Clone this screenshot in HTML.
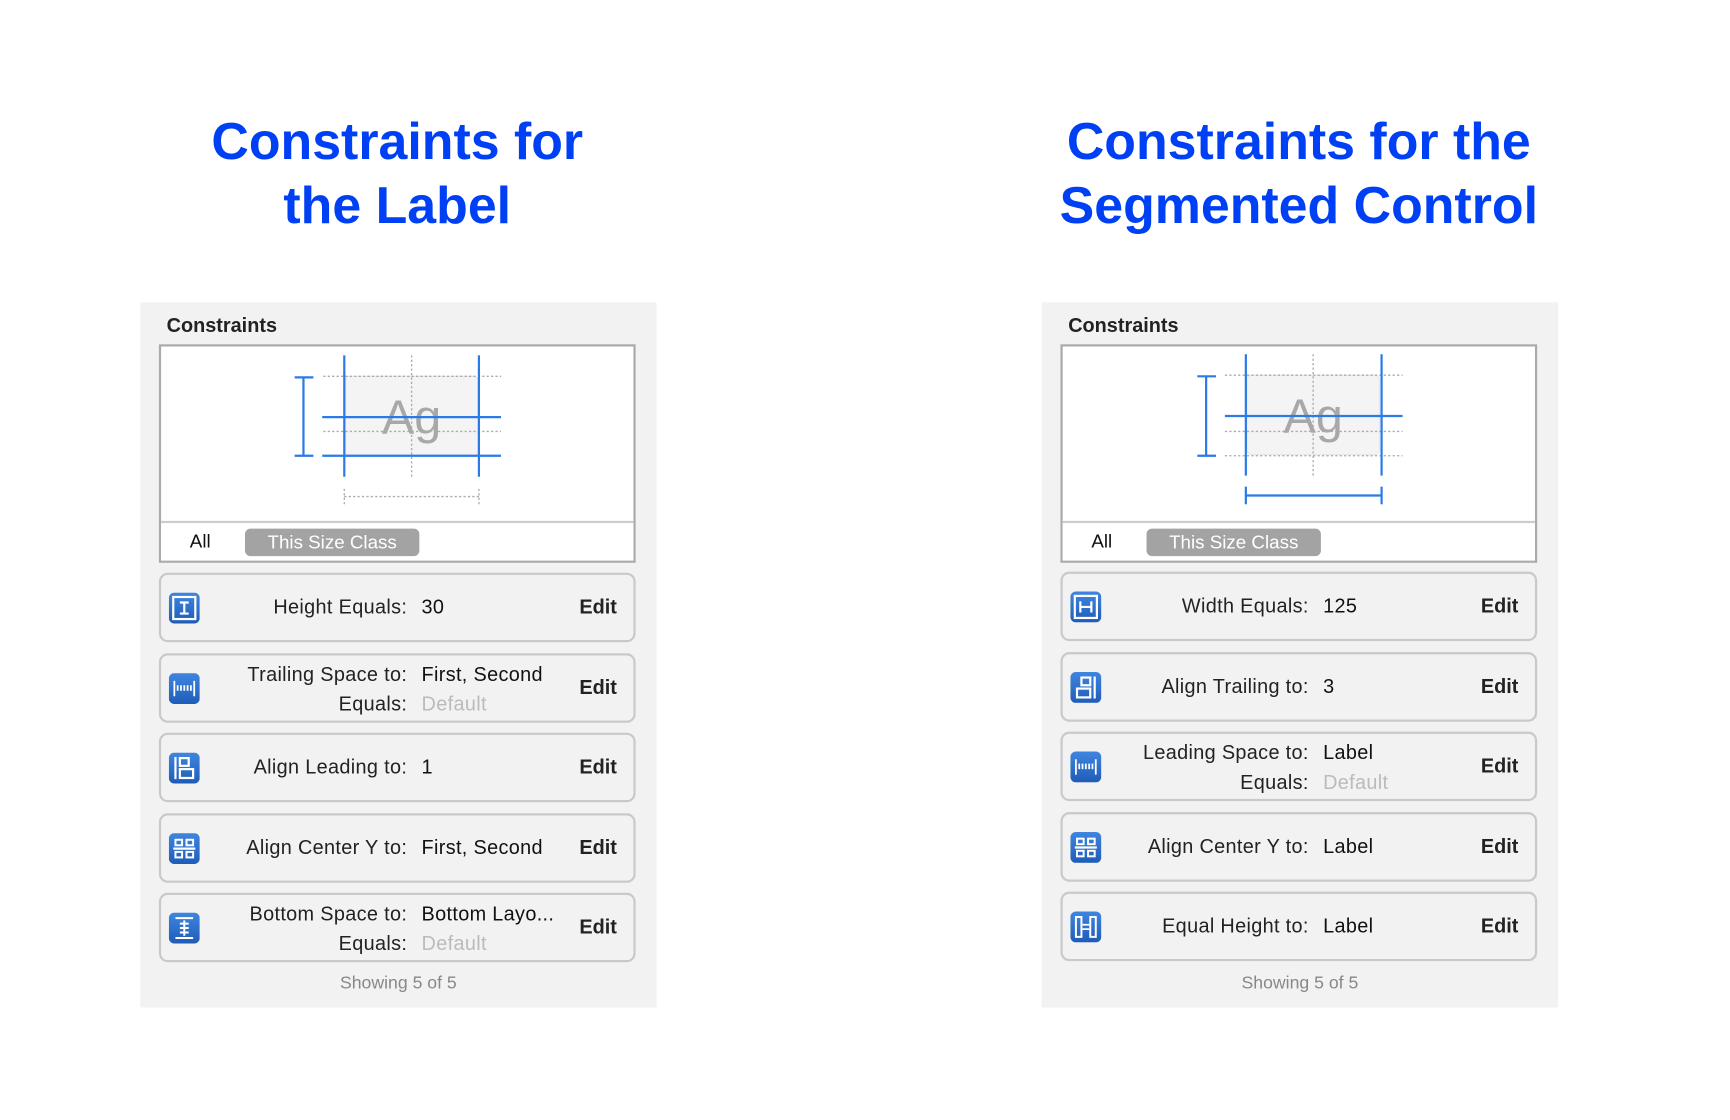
<!DOCTYPE html>
<html><head><meta charset="utf-8"><style>
html,body{margin:0;padding:0;background:#fff;}
body{width:1730px;height:1120px;overflow:hidden;position:relative;font-family:"Liberation Sans",Arial,sans-serif;}
#w{position:absolute;left:0;top:0;width:1570px;height:1015px;transform:scale(1.1035);transform-origin:0 0;}
.t{position:absolute;width:600px;text-align:center;color:#0040f5;font-weight:bold;font-size:47px;line-height:58px;}
.p{position:absolute;top:274px;width:468px;height:639px;background:#f2f2f2;}
.h{position:absolute;left:24px;top:11px;font-weight:bold;font-size:18px;color:#222;}
.d{position:absolute;left:17px;top:38px;width:428px;height:194px;border:2px solid #aaa;background:#fff;}
.dv{position:absolute;left:0;right:0;top:158px;height:34px;border-top:2px solid #ccc;background:#fff;}
.all{position:absolute;left:26px;top:7px;font-size:17px;color:#111;}
.pill{position:absolute;left:76px;top:5px;width:158px;height:25px;border-radius:5px;background:#a3a3a3;color:#fff;font-size:17px;text-align:center;line-height:25px;}
.r{position:absolute;left:17px;width:428px;height:59px;border:2px solid #c9c9c9;border-radius:8px;background:#f2f2f2;}
.ic{position:absolute;left:7px;top:16px;width:28px;height:28px;}
.l{position:absolute;right:205px;font-size:18px;color:#222;white-space:nowrap;letter-spacing:.3px}
.v{position:absolute;left:236px;font-size:18px;color:#111;white-space:nowrap;letter-spacing:.3px}
.g{color:#bbb}
.e{position:absolute;left:379px;top:19px;font-weight:bold;font-size:18px;color:#222;}
.s1{top:19px}.a{top:7px}.b{top:34px}
.sh{position:absolute;left:0;width:100%;top:609px;text-align:center;font-size:16px;color:#888;}
</style></head><body><div id="w">
<div class="t" style="left:60px;top:99px">Constraints for<br>the Label</div>
<div class="t" style="left:877px;top:99px">Constraints for the<br>Segmented Control</div>

<svg width="0" height="0" style="position:absolute"><defs>
<linearGradient id="bg" x1="0" y1="0" x2="0" y2="1"><stop offset="0" stop-color="#3f86e0"/><stop offset="1" stop-color="#1f5cb8"/></linearGradient>
</defs></svg>

<!-- LEFT PANEL -->
<div class="p" style="left:127px">
<div class="h">Constraints</div>
<div class="d">
<svg width="428" height="158" style="position:absolute;left:0;top:0">
<g transform="translate(-146,-314)">
<rect x="313" y="341" width="120" height="72" rx="4" fill="#f4f4f4" stroke="#e6e6e6"/>
<text x="373" y="393" text-anchor="middle" font-family="Liberation Sans" font-size="44" fill="#a8a8a8">Ag</text>
<g stroke="#aaa" stroke-width="1.2" stroke-dasharray="2,2">
<line x1="293" y1="341" x2="454" y2="341"/><line x1="293" y1="391" x2="454" y2="391"/>
<line x1="373" y1="322" x2="373" y2="432"/>
<line x1="312" y1="450" x2="434" y2="450"/><line x1="312" y1="443" x2="312" y2="457"/><line x1="434" y1="443" x2="434" y2="457"/>
</g>
<g stroke="#2a7ae8" stroke-width="2">
<line x1="312" y1="322" x2="312" y2="432"/><line x1="434" y1="322" x2="434" y2="432"/>
<line x1="292" y1="378" x2="454" y2="378"/><line x1="292" y1="413" x2="454" y2="413"/>
<line x1="275" y1="342" x2="275" y2="413"/><line x1="267" y1="342" x2="284" y2="342"/><line x1="267" y1="413" x2="284" y2="413"/>
</g></g></svg>
<div class="dv"><span class="all">All</span><span class="pill">This Size Class</span></div>
</div>
<div class="r" style="top:245px"><svg class="ic" viewBox="0 0 28 28"><rect width="28" height="28" rx="5" fill="url(#bg)"/><rect x="4" y="4" width="20" height="20" fill="none" stroke="#fff" stroke-width="2"/><path d="M10 9h8M10 19h8M14 9v10" stroke="#fff" stroke-width="2"/></svg><span class="l s1">Height Equals:</span><span class="v s1">30</span><span class="e">Edit</span></div>
<div class="r" style="top:318px"><svg class="ic" viewBox="0 0 28 28"><rect width="28" height="28" rx="5" fill="url(#bg)"/><path d="M5 7v14M23 7v14M8 11v5M11 11v5M14 11v5M17 11v5M20 11v5" stroke="#fff" stroke-width="1.6"/></svg><span class="l a">Trailing Space to:</span><span class="v a">First, Second</span><span class="l b">Equals:</span><span class="v b g">Default</span><span class="e">Edit</span></div>
<div class="r" style="top:390px"><svg class="ic" viewBox="0 0 28 28"><rect width="28" height="28" rx="5" fill="url(#bg)"/><path d="M6 4v20" stroke="#fff" stroke-width="2"/><rect x="10" y="5" width="8" height="7" fill="none" stroke="#fff" stroke-width="2"/><rect x="10" y="15" width="12" height="8" fill="none" stroke="#fff" stroke-width="2"/></svg><span class="l s1">Align Leading to:</span><span class="v s1">1</span><span class="e">Edit</span></div>
<div class="r" style="top:463px"><svg class="ic" viewBox="0 0 28 28"><rect width="28" height="28" rx="5" fill="url(#bg)"/><path d="M4 14h20" stroke="#fff" stroke-width="2"/><rect x="6" y="6" width="6" height="5" fill="none" stroke="#fff" stroke-width="1.8"/><rect x="16" y="6" width="6" height="5" fill="none" stroke="#fff" stroke-width="1.8"/><rect x="6" y="17" width="6" height="5" fill="none" stroke="#fff" stroke-width="1.8"/><rect x="16" y="17" width="6" height="5" fill="none" stroke="#fff" stroke-width="1.8"/></svg><span class="l s1">Align Center Y to:</span><span class="v s1">First, Second</span><span class="e">Edit</span></div>
<div class="r" style="top:535px"><svg class="ic" viewBox="0 0 28 28"><rect width="28" height="28" rx="5" fill="url(#bg)"/><path d="M6 5h16M6 23h16M14 7v14M10 10h8M10 14h8M10 18h8" stroke="#fff" stroke-width="1.8"/></svg><span class="l a">Bottom Space to:</span><span class="v a">Bottom Layo...</span><span class="l b">Equals:</span><span class="v b g">Default</span><span class="e">Edit</span></div>
<div class="sh">Showing 5 of 5</div>
</div>

<!-- RIGHT PANEL -->
<div class="p" style="left:944px">
<div class="h">Constraints</div>
<div class="d">
<svg width="428" height="158" style="position:absolute;left:0;top:0">
<g transform="translate(-964,-314)">
<rect x="1131" y="340" width="120" height="72" rx="4" fill="#f4f4f4" stroke="#e6e6e6"/>
<text x="1191" y="392" text-anchor="middle" font-family="Liberation Sans" font-size="44" fill="#a8a8a8">Ag</text>
<g stroke="#aaa" stroke-width="1.2" stroke-dasharray="2,2">
<line x1="1111" y1="340" x2="1272" y2="340"/><line x1="1111" y1="391" x2="1272" y2="391"/><line x1="1111" y1="413" x2="1272" y2="413"/>
<line x1="1191" y1="321" x2="1191" y2="431"/>
</g>
<g stroke="#2a7ae8" stroke-width="2">
<line x1="1130" y1="321" x2="1130" y2="431"/><line x1="1253" y1="321" x2="1253" y2="431"/>
<line x1="1111" y1="377" x2="1272" y2="377"/>
<line x1="1094" y1="341" x2="1094" y2="413"/><line x1="1086" y1="341" x2="1103" y2="341"/><line x1="1086" y1="413" x2="1103" y2="413"/>
<line x1="1130" y1="449" x2="1253" y2="449"/><line x1="1130" y1="441" x2="1130" y2="457"/><line x1="1253" y1="441" x2="1253" y2="457"/>
</g></g></svg>
<div class="dv"><span class="all">All</span><span class="pill">This Size Class</span></div>
</div>
<div class="r" style="top:244px"><svg class="ic" viewBox="0 0 28 28"><rect width="28" height="28" rx="5" fill="url(#bg)"/><rect x="4" y="4" width="20" height="20" fill="none" stroke="#fff" stroke-width="2"/><path d="M9 9v10M19 9v10M9 14h10" stroke="#fff" stroke-width="2"/></svg><span class="l s1">Width Equals:</span><span class="v s1">125</span><span class="e">Edit</span></div>
<div class="r" style="top:317px"><svg class="ic" viewBox="0 0 28 28"><rect width="28" height="28" rx="5" fill="url(#bg)"/><path d="M22 4v20" stroke="#fff" stroke-width="2"/><rect x="10" y="5" width="8" height="7" fill="none" stroke="#fff" stroke-width="2"/><rect x="6" y="15" width="12" height="8" fill="none" stroke="#fff" stroke-width="2"/></svg><span class="l s1">Align Trailing to:</span><span class="v s1">3</span><span class="e">Edit</span></div>
<div class="r" style="top:389px"><svg class="ic" viewBox="0 0 28 28"><rect width="28" height="28" rx="5" fill="url(#bg)"/><path d="M5 7v14M23 7v14M8 11v5M11 11v5M14 11v5M17 11v5M20 11v5" stroke="#fff" stroke-width="1.6"/></svg><span class="l a">Leading Space to:</span><span class="v a">Label</span><span class="l b">Equals:</span><span class="v b g">Default</span><span class="e">Edit</span></div>
<div class="r" style="top:462px"><svg class="ic" viewBox="0 0 28 28"><rect width="28" height="28" rx="5" fill="url(#bg)"/><path d="M4 14h20" stroke="#fff" stroke-width="2"/><rect x="6" y="6" width="6" height="5" fill="none" stroke="#fff" stroke-width="1.8"/><rect x="16" y="6" width="6" height="5" fill="none" stroke="#fff" stroke-width="1.8"/><rect x="6" y="17" width="6" height="5" fill="none" stroke="#fff" stroke-width="1.8"/><rect x="16" y="17" width="6" height="5" fill="none" stroke="#fff" stroke-width="1.8"/></svg><span class="l s1">Align Center Y to:</span><span class="v s1">Label</span><span class="e">Edit</span></div>
<div class="r" style="top:534px"><svg class="ic" viewBox="0 0 28 28"><rect width="28" height="28" rx="5" fill="url(#bg)"/><rect x="5" y="5" width="5" height="18" fill="none" stroke="#fff" stroke-width="1.8"/><rect x="18" y="5" width="5" height="18" fill="none" stroke="#fff" stroke-width="1.8"/><path d="M11 12h6M11 16h6" stroke="#fff" stroke-width="1.6"/></svg><span class="l s1">Equal Height to:</span><span class="v s1">Label</span><span class="e">Edit</span></div>
<div class="sh">Showing 5 of 5</div>
</div>
</div></body></html>
